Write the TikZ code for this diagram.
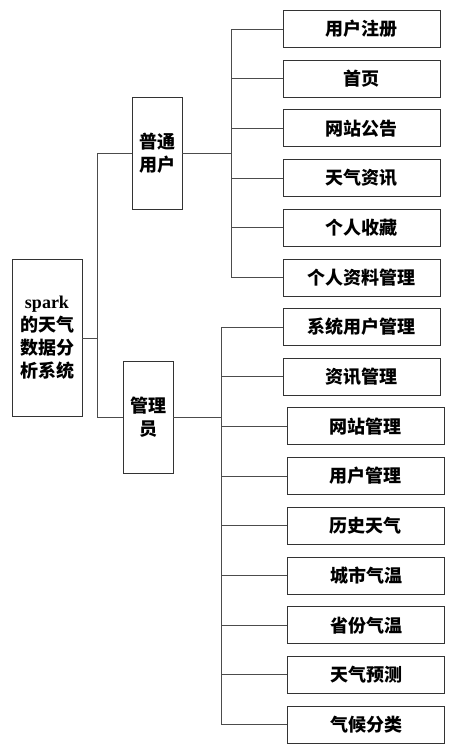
\documentclass[tikz,border=0pt]{standalone}
\usepackage{fontspec}
\setmainfont{Liberation Serif}
\newfontfamily\cjk{Noto Sans CJK SC}
\usepackage{tikz}
\usetikzlibrary{calc}

\begin{document}
\begin{tikzpicture}[
  x=1pt, y=-1pt,
  every node/.style={draw=black!80, line width=0.9pt, inner sep=0pt, align=center,
    font=\cjk\bfseries\fontsize{18}{23}\selectfont},
  leaf/.style={minimum width=157pt, minimum height=37pt},
  mid/.style={minimum width=50pt, minimum height=112pt},
  link/.style={draw=black!70, line width=1pt}
]
\useasboundingbox (0,0) rectangle (465,755);
% root and the two roles
\node[minimum width=70pt, minimum height=157pt] (root) at (47,338)
  {{\rmfamily\bfseries spark}\\的天气\\数据分\\析系统};
\node[mid] (user) at (157,153) {普通\\用户};
\node[mid] (admin) at (148,417.5) {管理\\员};
\coordinate (rbr) at (97,338);
\coordinate (ubr) at (231,153);
\coordinate (abr) at (221,417.5);
\draw[link] (root.east) -- (rbr);
\draw[link] (user.west) -| (rbr);
\draw[link] (admin.west) -| (rbr);
\draw[link] (user.east) -- (ubr);
\draw[link] (admin.east) -- (abr);
% user functions
\foreach \txt [count=\i] in {用户注册,首页,网站公告,天气资讯,个人收藏,个人资料管理} {
  \node[leaf] (u\i) at (361.5,29+49.7*\i-49.7) {\txt};
  \draw[link] (u\i.west) -| (ubr);
}
% admin functions
\foreach \txt/\xx [count=\i] in {系统用户管理/361.5,资讯管理/361.5,网站管理/365.5,用户管理/365.5,
    历史天气/365.5,城市气温/366,省份气温/366,天气预测/366,气候分类/366} {
  \node[leaf] (a\i) at (\xx,327+49.7*\i-49.7) {\txt};
  \draw[link] (a\i.west) -| (abr);
}
\end{tikzpicture}
\end{document}
